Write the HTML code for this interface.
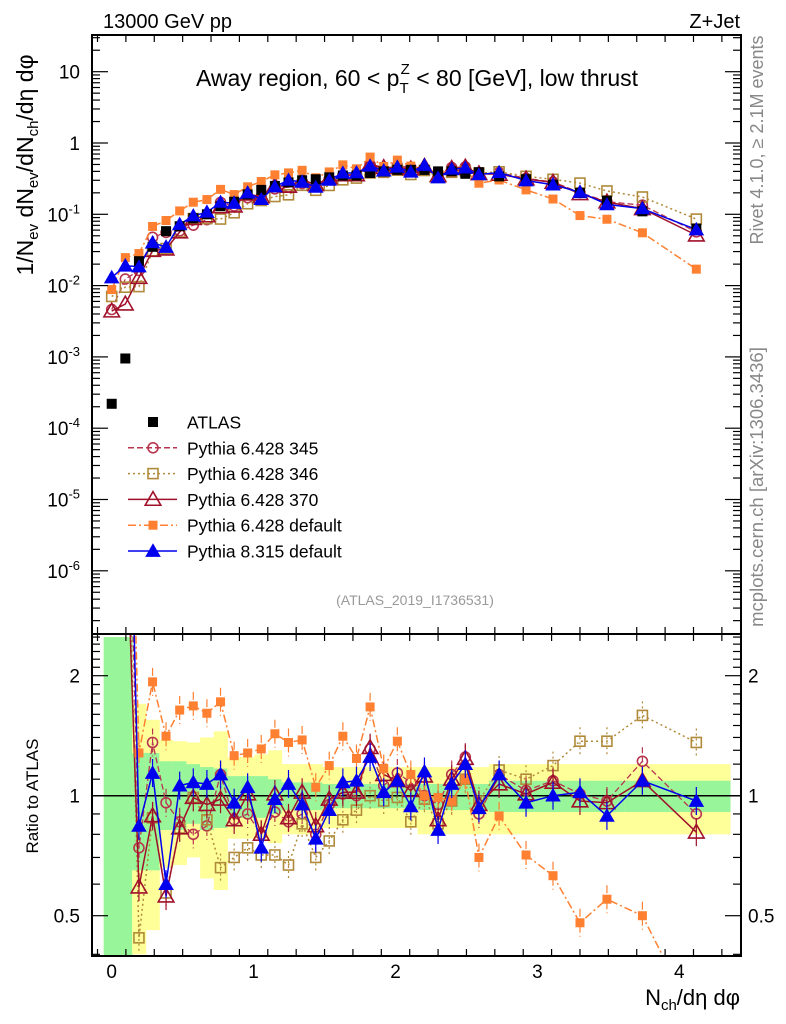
<!DOCTYPE html>
<html><head><meta charset="utf-8"><style>
body{margin:0;background:#fff;}
svg{display:block;font-family:"Liberation Sans",sans-serif;}
</style></head><body>
<svg id="chart" width="786" height="1024" viewBox="0 0 786 1024">
<defs>
<clipPath id="cm"><rect x="92" y="35" width="649" height="599"/></clipPath>
<clipPath id="cr"><rect x="92" y="634" width="649" height="322"/></clipPath>
</defs>
<g id="bands" clip-path="url(#cr)"></g>
<g id="mainMarks" clip-path="url(#cm)"></g>
<g id="ratioMarks" clip-path="url(#cr)"></g>
<g id="axes"></g>
<text x="103" y="28" font-size="20">13000 GeV pp</text>
<text x="740" y="28" font-size="20" text-anchor="end">Z+Jet</text>
<text x="417" y="86" font-size="23" text-anchor="middle">Away region, 60 &lt; p<tspan font-size="15" dy="7">T</tspan><tspan font-size="15" dx="-8" dy="-19">Z</tspan><tspan dy="12"> &lt; 80 [GeV], low thrust</tspan></text>
<text x="415" y="605" font-size="14" fill="#999" text-anchor="middle">(ATLAS_2019_I1736531)</text>
<text transform="translate(763,140) rotate(-90)" font-size="18" fill="#888" text-anchor="middle">Rivet 4.1.0, ≥ 2.1M events</text>
<text transform="translate(763,487) rotate(-90)" font-size="18.5" fill="#888" text-anchor="middle">mcplots.cern.ch [arXiv:1306.3436]</text>
<text transform="translate(33,165) rotate(-90)" font-size="23" text-anchor="middle">1/N<tspan font-size="15" dy="5">ev</tspan><tspan dy="-5"> dN</tspan><tspan font-size="15" dy="5">ev</tspan><tspan dy="-5">/dN</tspan><tspan font-size="15" dy="5">ch</tspan><tspan dy="-5">/dη dφ</tspan></text>
<text transform="translate(38,796) rotate(-90)" font-size="17" text-anchor="middle">Ratio to ATLAS</text>
<text x="740" y="1005" font-size="22" text-anchor="end">N<tspan font-size="15" dy="5">ch</tspan><tspan dy="-5">/dη dφ</tspan></text>
<g id="legend"></g>
</svg>
<script>
// ---- data ----
const nchValues=[0,0.096,0.192,0.288,0.383,0.479,0.575,0.671,0.767,0.863,0.958,1.054,1.15,1.246,1.342,1.438,1.533,1.629,1.725,1.821,1.917,2.013,2.108,2.204,2.3,2.396,2.492,2.588,2.73,2.92,3.11,3.30,3.49,3.74,4.12];
const atlasValues=[2.2e-4,9.5e-4,0.022,0.035,0.058,0.068,0.088,0.10,0.13,0.15,0.19,0.22,0.25,0.28,0.30,0.31,0.33,0.35,0.35,0.38,0.40,0.42,0.42,0.42,0.40,0.40,0.37,0.39,0.34,0.31,0.26,0.20,0.155,0.11,0.063];
const ratio345=[21,13,0.74,1.36,0.96,0.86,0.80,0.84,1.13,0.87,0.90,0.80,0.91,0.86,0.90,0.80,0.95,1.01,1.0,1.31,1.06,1.14,1.08,1.0,0.95,1.13,1.25,0.90,1.13,1.03,1.09,1.01,0.97,1.22,0.90];
const ratio346=[32,10,0.44,0.88,0.57,0.83,0.99,0.87,0.66,0.70,0.74,0.71,0.71,0.67,0.85,0.70,0.77,0.87,0.92,1.0,0.97,0.99,0.86,0.98,0.85,0.97,1.1,0.97,1.16,1.1,1.19,1.37,1.37,1.59,1.36];
const ratio370=[20,5.8,0.59,0.89,0.56,0.83,0.99,0.95,0.98,0.87,1.01,0.80,1.01,0.88,1.02,0.84,0.98,1.02,1.02,1.32,1.13,1.09,1.03,1.12,0.87,1.1,1.24,0.95,1.07,1.01,1.08,0.97,0.96,1.09,0.81];
const ratio6def=[40,26,1.28,1.93,1.41,1.64,1.68,1.61,1.72,1.26,1.28,1.31,1.43,1.36,1.38,1.05,1.19,1.41,1.24,1.67,1.17,1.37,1.13,1.0,0.99,0.97,1.1,0.70,0.89,0.71,0.63,0.48,0.55,0.50,0.27];
const ratio8def=[59,20,0.84,1.14,0.60,1.06,1.08,1.07,1.13,0.96,1.05,0.74,0.98,1.07,0.95,0.78,0.92,1.08,1.09,1.25,1.02,1.09,0.94,1.15,0.82,1.07,1.2,0.93,1.13,0.96,1.0,1.02,0.89,1.09,0.97];
const yellowHi=[2.5,2.5,1.7,1.55,1.38,1.37,1.36,1.4,1.45,1.25,1.25,1.27,1.3,1.2,1.2,1.2,1.18,1.18,1.18,1.18,1.18,1.18,1.18,1.18,1.18,1.18,1.18,1.18,1.2,1.2,1.2,1.2,1.2,1.2,1.2];
const yellowLo=[0.39,0.39,0.4,0.46,0.66,0.67,0.7,0.62,0.58,0.78,0.78,0.78,0.76,0.8,0.8,0.8,0.83,0.83,0.83,0.83,0.83,0.83,0.83,0.8,0.8,0.8,0.8,0.8,0.8,0.8,0.8,0.8,0.8,0.8,0.8];
const greenHi=[2.5,2.5,1.28,1.28,1.22,1.22,1.2,1.18,1.17,1.12,1.12,1.12,1.1,1.08,1.08,1.08,1.07,1.07,1.07,1.07,1.07,1.07,1.07,1.07,1.07,1.07,1.07,1.07,1.09,1.09,1.09,1.09,1.09,1.09,1.09];
const greenLo=[0.39,0.39,0.65,0.65,0.82,0.82,0.85,0.82,0.83,0.88,0.88,0.88,0.9,0.92,0.92,0.92,0.93,0.93,0.93,0.93,0.93,0.93,0.93,0.92,0.92,0.92,0.92,0.92,0.91,0.91,0.91,0.91,0.91,0.91,0.91];
const xTicks=[0,1,2,3,4];
const mainTickExps=[1,0,-1,-2,-3,-4,-5,-6];
const ratioTicks=[0.5,1,2];
// ---- axes ----
const NS="http://www.w3.org/2000/svg";
const X=v=>111.7+141.9*v;
const YM=v=>143-71.3*Math.log10(v);
const YR=r=>795.7-120*Math.log2(r);
function mk(tag,attrs,parent){const e=document.createElementNS(NS,tag);for(const k in attrs)e.setAttribute(k,attrs[k]);parent.appendChild(e);return e;}
const axes=document.getElementById('axes'),bands=document.getElementById('bands'),mm=document.getElementById('mainMarks'),rm=document.getElementById('ratioMarks'),leg=document.getElementById('legend');
const edges=[];
for(let i=0;i<nchValues.length;i++){
  const lo=i===0?X(nchValues[0])-8:(X(nchValues[i-1])+X(nchValues[i]))/2;
  const hi=i===nchValues.length-1?730:(X(nchValues[i])+X(nchValues[i+1]))/2;
  edges.push([lo,hi]);
}
edges.forEach((e,i)=>{
  const y=mk('rect',{x:e[0],y:YR(yellowHi[i]),width:e[1]-e[0]+0.5,height:YR(yellowLo[i])-YR(yellowHi[i]),fill:'#ffff99'},bands);
  
  
  const g=mk('rect',{x:e[0],y:YR(greenHi[i]),width:e[1]-e[0]+0.5,height:YR(greenLo[i])-YR(greenHi[i]),fill:'#99f599'},bands);
  
  
});
const one=mk('line',{x1:92,x2:741,y1:YR(1),y2:YR(1),stroke:'#000','stroke-width':1.5},rm);


function marker(par,type,x,y,color,s){
  let e;
  if(type==='fsq') e=mk('rect',{x:x-s/2,y:y-s/2,width:s,height:s,fill:color},par);
  else if(type==='osq') e=mk('rect',{x:x-s/2,y:y-s/2,width:s,height:s,fill:'none',stroke:color,'stroke-width':1.6},par);
  else if(type==='oc') e=mk('circle',{cx:x,cy:y,r:s/2,fill:'none',stroke:color,'stroke-width':1.6},par);
  else if(type==='otri') e=mk('path',{d:`M${x} ${y-s*0.6}L${x+s*0.6} ${y+s*0.45}L${x-s*0.6} ${y+s*0.45}Z`,fill:'none',stroke:color,'stroke-width':1.6},par);
  else e=mk('path',{d:`M${x} ${y-s*0.6}L${x+s*0.6} ${y+s*0.45}L${x-s*0.6} ${y+s*0.45}Z`,fill:color},par);
  return e;
}
const series=[
 {name:'Pythia 6.428 345',key:'p6-345',r:ratio345,color:'#b8354f',dash:'6,3',m:'oc',s:10,w:1.3},
 {name:'Pythia 6.428 346',key:'p6-346',r:ratio346,color:'#b08a3a',dash:'2,3',m:'osq',s:10,w:1.5},
 {name:'Pythia 6.428 370',key:'p6-370',r:ratio370,color:'#a0102a',dash:'',m:'otri',s:13,w:1.5},
 {name:'Pythia 6.428 default',key:'p6-default',r:ratio6def,color:'#ff8030',dash:'8,3,2,3',m:'fsq',s:9,w:1.5},
 {name:'Pythia 8.315 default',key:'p8-default',r:ratio8def,color:'#0000ee',dash:'',m:'ftri',s:13,w:1.5}
];
series.forEach(s=>{
  const mainVals=atlasValues.map((a,i)=>a*s.r[i]);
  const pm=nchValues.map((v,i)=>X(v)+','+YM(mainVals[i])).join(' ');
  const l1=mk('polyline',{points:pm,fill:'none',stroke:s.color,'stroke-width':s.w,'stroke-dasharray':s.dash},mm);
  
  
  const pr=nchValues.map((v,i)=>X(v)+','+YR(s.r[i])).join(' ');
  const l2=mk('polyline',{points:pr,fill:'none',stroke:s.color,'stroke-width':s.w,'stroke-dasharray':s.dash},rm);
  
  
  nchValues.forEach((v,i)=>{
    const x=X(v),y=YM(mainVals[i]);
    const e=marker(mm,s.m,x,y,s.color,s.s);
    
    
    const yr=YR(s.r[i]);
    const eb=mk('line',{x1:x,x2:x,y1:yr-14,y2:yr+14,stroke:s.color,'stroke-width':1.2,'stroke-dasharray':s.dash},rm);
    
    
    const e2=marker(rm,s.m,x,yr,s.color,s.s);
    
    
  });
});
nchValues.forEach((v,i)=>{
  const x=X(v),y=YM(atlasValues[i]);
  const e=mk('rect',{x:x-5,y:y-5,width:10,height:10,fill:'#000'},mm);
  
  
});
const blue=series[4];
nchValues.forEach((v,i)=>{
  const e=marker(mm,'ftri',X(v),YM(atlasValues[i]*blue.r[i]),blue.color,12);
  
  
});
[[35,634],[634,956]].forEach((p,k)=>{
  const f=mk('rect',{x:92,y:p[0],width:649,height:p[1]-p[0],fill:'none',stroke:'#000','stroke-width':2},axes);
  
  
});
for(let v=-0.1;v<=4.4;v+=0.2){
  const vv=Math.round(v*10)/10;if(vv<-0.1)continue;
  const x=X(vv);if(x<92||x>741)continue;
  const major=Math.abs(vv-Math.round(vv))<1e-6;
  const L=major?14:7;
  [[35,1],[634,-1],[634,1],[956,-1]].forEach(([y,d])=>mk('line',{x1:x,x2:x,y1:y,y2:y+d*L,stroke:'#000','stroke-width':1.2},axes));
}
xTicks.forEach(t=>{
  const e=mk('text',{x:X(t),y:978,'font-size':19,'text-anchor':'middle'},axes);e.textContent=t;
  
  
});
for(let ex=-7;ex<=1;ex++){for(let m=1;m<10;m++){
  const y=YM(m*Math.pow(10,ex));if(y<35||y>634)continue;
  const L=m===1?16:8;
  mk('line',{x1:92,x2:92+L,y1:y,y2:y,stroke:'#000','stroke-width':1.2},axes);
  mk('line',{x1:741,x2:741-L,y1:y,y2:y,stroke:'#000','stroke-width':1.2},axes);
}}
mainTickExps.forEach(ex=>{
  const y=YM(Math.pow(10,ex));
  const t=mk('text',{x:80,y:y+7,'font-size':19,'text-anchor':'end'},axes);
  if(ex===1)t.textContent='10';else if(ex===0)t.textContent='1';
  else{t.textContent='10';const s=mk('tspan',{'font-size':13,dy:-8},t);s.textContent=ex;}
  
  
});
for(let r=0.4;r<=2.55;r+=0.1){
  const rr=Math.round(r*10)/10;const y=YR(rr);if(y<634||y>956)continue;
  const major=(rr===0.5||rr===1||rr===2);const L=major?16:8;
  mk('line',{x1:92,x2:92+L,y1:y,y2:y,stroke:'#000','stroke-width':1.2},axes);
  mk('line',{x1:741,x2:741-L,y1:y,y2:y,stroke:'#000','stroke-width':1.2},axes);
}
ratioTicks.forEach(r=>{
  const y=YR(r)+7;
  const a=mk('text',{x:80,y:y,'font-size':19,'text-anchor':'end'},axes);a.textContent=r;
  
  
  const b=mk('text',{x:748,y:y,'font-size':19},axes);b.textContent=r;
  
  
});
const rows=[{name:'ATLAS',key:'atlas',m:'fsq',color:'#000',s:10,dash:null}].concat(series);
rows.forEach((s,k)=>{
  const y=422+k*25.8;
  const g=mk('g',{},leg);
  
  
  if(s.dash!==null)mk('line',{x1:128,x2:177,y1:y,y2:y,stroke:s.color,'stroke-width':1.5,'stroke-dasharray':s.dash},g);
  marker(g,s.m,153,y,s.color,s.s);
  const t=mk('text',{x:187,y:y+6.5,'font-size':17.5},g);t.textContent=s.name;
});
</script>
</body></html>
